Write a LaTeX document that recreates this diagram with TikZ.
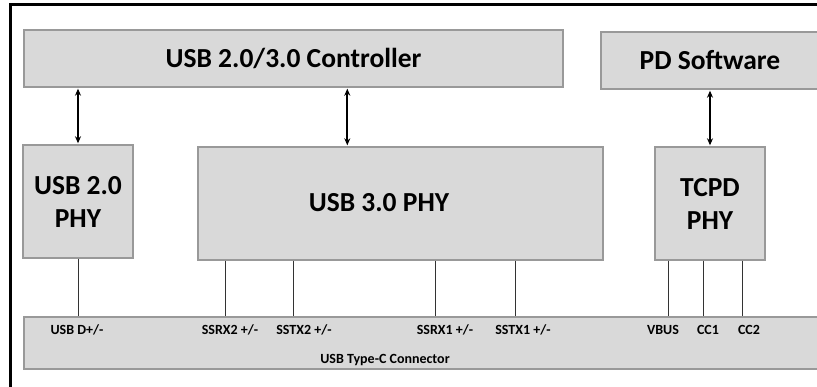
\documentclass[tikz,border=0pt]{standalone}
\usepackage{fontspec}
\setmainfont{Carlito}
\usetikzlibrary{arrows.meta,calc}
\definecolor{boxfill}{HTML}{D9D9D9}
\definecolor{boxedge}{HTML}{999999}
\definecolor{wire}{HTML}{333333}
\tikzset{
  block/.style={draw=boxedge, line width=1.4pt, fill=boxfill, inner sep=0pt,
    font=\bfseries\fontsize{27.5}{33}\selectfont, align=center},
  pinlabel/.style={inner sep=0pt, font=\bfseries\fontsize{14}{16}\selectfont},
  biarrow/.style={line width=1.8pt, {Stealth[length=7pt,width=6pt]}-{Stealth[length=7pt,width=6pt]}, shorten <=1pt, shorten >=1pt},
  wireline/.style={draw=wire, line width=1pt},
}
\begin{document}
\begin{tikzpicture}[x=1pt, y=-1pt]
\useasboundingbox (0,0) rectangle (817,387);
\clip (0,0) rectangle (817,387);
\fill[white] (0,0) rectangle (817,387);
% outer frame (left and top edges)
\draw[line width=3pt] (10,400) -- (10,5) -- (840,5);

% blocks
\node[block, minimum width=539pt, minimum height=57pt] (ctrl) at (293.5,58.5) {USB 2.0/3.0 Controller};
\node[block, minimum width=218pt, minimum height=57pt] (pdsw) at (710,60.5) {PD Software};
\node[block, minimum width=110pt, minimum height=113pt] (u2) at (78,201.5) {USB 2.0\\PHY};
\node[block, minimum width=405pt, minimum height=113pt] (u3) at (400.5,203.5) {};
\node[inner sep=0pt, font=\bfseries\fontsize{27.5}{33}\selectfont] (u3text) at (379,203) {USB 3.0 PHY};
\node[block, minimum width=110pt, minimum height=113pt] (tc) at (710,203.5) {TCPD\\PHY};
\node[block, minimum width=798pt, minimum height=52pt] (conn) at (423,343) {};

% controller / software to PHY links
\draw[biarrow] (ctrl.south -| u2.north) -- (u2.north);
\draw[biarrow] (ctrl.south -| {$(u3.north west)+(150pt,0)$}) -- ($(u3.north west)+(150pt,0)$);
\draw[biarrow] (pdsw.south) -- (tc.north);

% PHY to connector wires
\draw[wireline] (u2.south) -- (u2.south |- conn.north);
\foreach \dx in {28,96,238,318}
  \draw[wireline] ($(u3.south west)+(\dx pt,0)$) coordinate (w) -- (w |- conn.north);
\foreach \dx in {14,49,88}
  \draw[wireline] ($(tc.south west)+(\dx pt,0)$) coordinate (w) -- (w |- conn.north);

% connector pin labels
\node[pinlabel] (pdm)   at (77,330)  {USB D+/-};
\node[pinlabel] (rx2)   at (230,330) {SSRX2 +/-};
\node[pinlabel] (tx2)   at (304,330) {SSTX2 +/-};
\node[pinlabel] (rx1)   at (445,330) {SSRX1 +/-};
\node[pinlabel] (tx1)   at (523,330) {SSTX1 +/-};
\node[pinlabel] (vbus)  at (663,330) {VBUS};
\node[pinlabel] (cc1)   at (708,330) {CC1};
\node[pinlabel] (cc2)   at (749,330) {CC2};
\node[pinlabel] (cname) at (385,360) {USB Type-C Connector};
\end{tikzpicture}
\end{document}
